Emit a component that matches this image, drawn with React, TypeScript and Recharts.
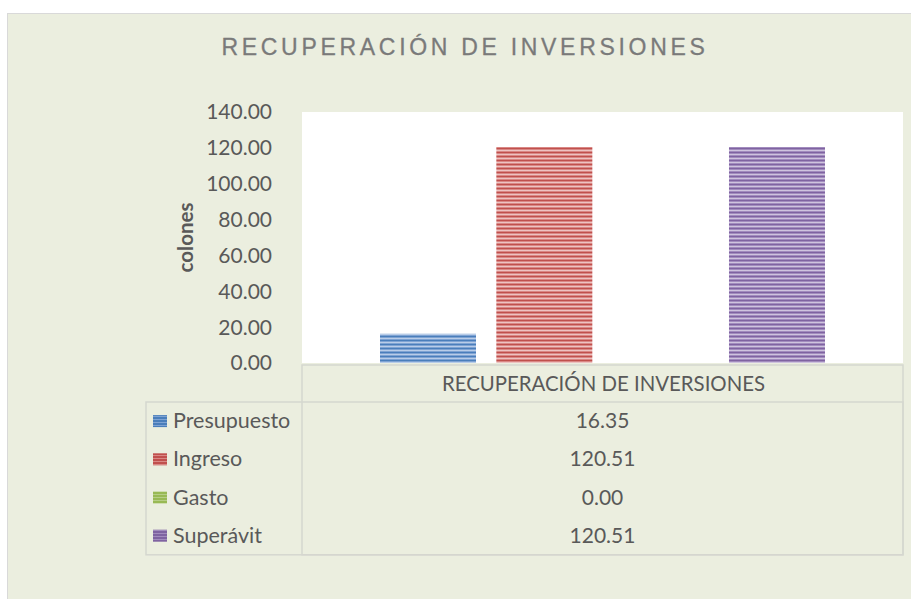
import { BarChart, Bar, XAxis, YAxis, CartesianGrid, Customized } from "recharts";

const categories = ["RECUPERACIÓN DE INVERSIONES"];
const seriesNames = ["Presupuesto", "Ingreso", "Gasto", "Superávit"];
const seriesKeys = ["presupuesto", "ingreso", "gasto", "superavit"];
const presupuesto = [16.35];
const ingreso = [120.51];
const gasto = [0.0];
const superavit = [120.51];
const yTicks = [0, 20, 40, 60, 80, 100, 120, 140];

const data = categories.map((c, i) => ({
  name: c,
  presupuesto: presupuesto[i],
  ingreso: ingreso[i],
  gasto: gasto[i],
  superavit: superavit[i],
}));

// dark / mid / light stripe shades per series
const shades = [
  ["#4A7EBB", "#7FA3D3", "#B9CDE8"],
  ["#C0504D", "#D98885", "#EDC3C2"],
  ["#98B954", "#B6CE86", "#D7E4BD"],
  ["#7F63A1", "#A28CBE", "#CFC4DE"],
];

const FONT = "Lato, 'Open Sans', sans-serif";
const INK = "#595959";
const GRID = "#D5D7CF";

function DataTable(props: any) {
  const off = props.offset ?? {};
  const left = off.left ?? 302;
  const right = left + (off.width ?? 601);
  const top = (off.top ?? 112) + (off.height ?? 251) + 2;
  const legendLeft = 146;
  const headH = 37;
  const rowH = 38.2;
  const bodyTop = top + headH;
  const bottom = bodyTop + rowH * seriesNames.length;
  const values = [presupuesto, ingreso, gasto, superavit];
  return (
    <g>
      <rect x={left} y={top} width={right - left} height={bottom - top} fill="none" stroke={GRID} strokeWidth={1.5} />
      <rect x={legendLeft} y={bodyTop} width={right - legendLeft} height={bottom - bodyTop} fill="none" stroke={GRID} strokeWidth={1.5} />
      <text x={(left + right) / 2 + 1} y={top + headH / 2 + 7} textAnchor="middle" fontFamily={FONT} fontSize={20.4} fill={INK}>
        {categories[0]}
      </text>
      {seriesNames.map((n, i) => {
        const cy = bodyTop + rowH * i + rowH / 2;
        return (
          <g key={n}>
            <rect x={153} y={cy - 6} width={14} height={12} fill={`url(#swatch${i})`} />
            <text x={173} y={cy + 7} fontFamily={FONT} fontSize={21.5} fill={INK}>
              {n}
            </text>
            <text x={(left + right) / 2} y={cy + 7} textAnchor="middle" fontFamily={FONT} fontSize={21} fill={INK}>
              {values[i][0].toFixed(2)}
            </text>
          </g>
        );
      })}
    </g>
  );
}

function Stripes() {
  return (
    <defs>
      {shades.map((s, i) => (
        <pattern key={i} id={`stripe${i}`} width={4} height={4} patternUnits="userSpaceOnUse">
          <rect x={0} y={0} width={4} height={1} fill={s[0]} />
          <rect x={0} y={1} width={4} height={1} fill={s[1]} />
          <rect x={0} y={2} width={4} height={1} fill={s[2]} />
          <rect x={0} y={3} width={4} height={1} fill={s[1]} />
        </pattern>
      ))}
      {shades.map((s, i) => (
        <pattern key={`s${i}`} id={`swatch${i}`} width={4} height={3} patternUnits="userSpaceOnUse">
          <rect x={0} y={0} width={4} height={2} fill={s[0]} />
          <rect x={0} y={2} width={4} height={1} fill={s[1]} />
        </pattern>
      ))}
    </defs>
  );
}

export default function App() {
  return (
    <div style={{ position: "absolute", left: 0, top: 0, width: 911, height: 599, background: "#fff", overflow: "hidden" }}>
      <svg width={0} height={0} style={{ position: "absolute" }}>
        <Stripes />
      </svg>
      <div
        style={{
          position: "absolute",
          left: 7,
          top: 13,
          width: 920,
          height: 600,
          background: "#EBEEDF",
          border: "1.5px solid #D9D9D9",
        }}
      />
      <div
        style={{
          position: "absolute",
          left: 0,
          top: 34,
          width: 930,
          textAlign: "center",
          fontFamily: "'Liberation Sans', Arial, sans-serif",
          fontSize: 23,
          letterSpacing: 3.7,
          color: "#7A7A7A",
          WebkitTextStroke: "0.3px #7A7A7A",
        }}
      >
        RECUPERACIÓN DE INVERSIONES
      </div>
      <div style={{ position: "absolute", left: 0, top: 0 }}>
        <BarChart
          width={911}
          height={599}
          data={data}
          margin={{ top: 112, right: 8, bottom: 236, left: 0 }}
          barSize={96}
          barGap={20.33}
        >
          <CartesianGrid fill="#FFFFFF" horizontal={false} vertical={false} stroke="none" />
          <XAxis dataKey="name" hide />
          <YAxis
            width={302}
            domain={[0, 140]}
            ticks={yTicks}
            tickFormatter={(v: number) => v.toFixed(2)}
            tick={{ fontSize: 21, fill: INK, fontFamily: FONT }}
            tickLine={false}
            axisLine={false}
            tickSize={0}
            tickMargin={30}
            label={{
              value: "colones",
              angle: -90,
              position: "insideLeft",
              offset: 186,
              style: { fontFamily: FONT, fontSize: 20.5, fontWeight: 700, fill: INK, textAnchor: "middle" },
            }}
          />
          {seriesKeys.map((k, i) => (
            <Bar key={k} dataKey={k} name={seriesNames[i]} fill={`url(#stripe${i})`} isAnimationActive={false} />
          ))}
          <Customized component={DataTable} />
        </BarChart>
      </div>
    </div>
  );
}
